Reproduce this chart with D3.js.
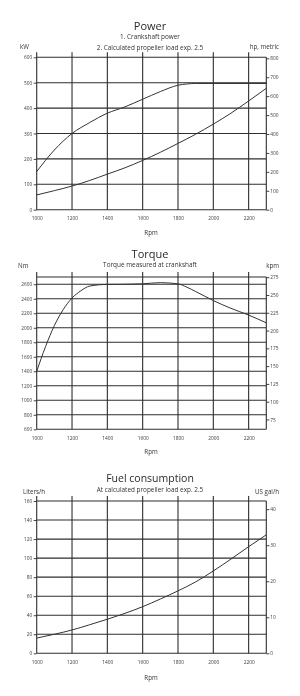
<!DOCTYPE html>
<html><head><meta charset="utf-8">
<script src="https://cdn.jsdelivr.net/npm/d3@7"></script>
<style>
html,body{margin:0;padding:0;background:#fff;}
svg{display:block;font-family:"Open Sans","DejaVu Sans",sans-serif;will-change:transform;-webkit-font-smoothing:antialiased;}
</style></head>
<body>
<svg id="c" width="300" height="696"></svg>
<script>
// ---- data ----
const rpmTicks = [1000, 1200, 1400, 1600, 1800, 2000, 2200];

const powerRpm = [1000, 1100, 1200, 1300, 1400, 1500, 1600, 1700, 1800, 1850, 1900, 2000, 2100, 2200, 2300];
const crankPowerKW = [150, 235, 300, 343, 380, 405, 435, 465, 490, 495, 497, 497, 497, 497, 497];
const propRpm = [1000, 1100, 1200, 1300, 1400, 1500, 1600, 1700, 1800, 1900, 2000, 2100, 2200, 2300];
const propPowerKW = [58, 75, 93, 115, 140, 165, 194, 226, 261, 297, 337, 380, 428, 478];
const kWTicks = [0, 100, 200, 300, 400, 500, 600];
const hpTicks = [0, 100, 200, 300, 400, 500, 600, 700, 800];

const torqueRpm = [1000, 1050, 1100, 1150, 1200, 1250, 1300, 1400, 1500, 1600, 1700, 1800, 1850, 1900, 2000, 2100, 2200, 2300];
const torqueNm = [1400, 1740, 2030, 2250, 2410, 2510, 2575, 2598, 2600, 2606, 2622, 2605, 2560, 2500, 2375, 2268, 2175, 2068];
const nmTicks = [600, 800, 1000, 1200, 1400, 1600, 1800, 2000, 2200, 2400, 2600];
const kpmTicks = [75, 100, 125, 150, 175, 200, 225, 250, 275];

const fuelRpm = [1000, 1100, 1200, 1300, 1400, 1500, 1600, 1700, 1800, 1900, 2000, 2100, 2200, 2300];
const fuelLh = [16, 20, 24.5, 30, 35.8, 42, 49, 57, 65.6, 75, 86.5, 99, 112, 124.5];
const lhTicks = [0, 20, 40, 60, 80, 100, 120, 140, 160];
const galTicks = [0, 10, 20, 30, 40];

// ---- drawing ----
const svg = d3.select("#c");
const x = d3.scaleLinear().domain([1000, 2300]).range([36.7, 266.3]);
const ink = "#2e2e2e";
const txt = "#333";
const fmt = d3.format("d");

function panel(o) {
  const g = svg.append("g");
  const y = o.y;
  const top = y.range()[1], bot = y.range()[0];
  const x0 = x.range()[0], x1 = x.range()[1];
  // titles
  g.append("text").attr("x", 150).attr("y", o.titleY).attr("text-anchor", "middle")
    .attr("dominant-baseline", "middle").attr("font-size", o.titleSize).attr("fill", "#2a2a2a").text(o.title);
  o.subs.forEach((s, i) => {
    g.append("text").attr("x", 150).attr("y", o.subY[i]).attr("text-anchor", "middle")
      .attr("dominant-baseline", "middle").attr("font-size", 6.4).attr("fill", txt).text(s);
  });
  g.append("text").attr("x", o.leftUnitX).attr("y", o.unitY).attr("dominant-baseline", "middle")
    .attr("font-size", 6.2).attr("fill", txt).text(o.leftUnit);
  g.append("text").attr("x", 279).attr("y", o.unitY).attr("text-anchor", "end").attr("dominant-baseline", "middle")
    .attr("font-size", 6.2).attr("fill", txt).text(o.rightUnit);

  // horizontal grid
  g.append("g").selectAll("line").data(o.leftTicks.concat(o.extraTop ? [y.domain()[1]] : [])).join("line")
    .attr("x1", x0).attr("x2", x1).attr("y1", d => y(d)).attr("y2", d => y(d))
    .attr("stroke", ink).attr("stroke-width", 1.1);
  // vertical grid
  g.append("g").selectAll("line").data(rpmTicks).join("line")
    .attr("x1", d => x(d)).attr("x2", d => x(d)).attr("y1", top - 5).attr("y2", bot)
    .attr("stroke", ink).attr("stroke-width", 1.1);
  g.append("line").attr("x1", x1).attr("x2", x1).attr("y1", top).attr("y2", bot)
    .attr("stroke", ink).attr("stroke-width", 1.1);

  // left axis
  const la = d3.axisLeft(y).tickValues(o.leftTicks).tickSize(3).tickPadding(1.5).tickFormat(fmt);
  const lg = g.append("g").attr("transform", `translate(${x0},0)`).call(la);
  // right axis
  const ra = d3.axisRight(o.yr).tickValues(o.rightTicks).tickSize(3).tickPadding(1).tickFormat(fmt);
  const rg = g.append("g").attr("transform", `translate(${x1},0)`).call(ra);
  // bottom axis
  const ba = d3.axisBottom(x).tickValues(rpmTicks).tickSize(0).tickPadding(7).tickFormat(fmt);
  const bg = g.append("g").attr("transform", `translate(0,${bot})`).call(ba);
  [lg, rg, bg].forEach(a => {
    a.select(".domain").remove();
    a.selectAll("line").attr("stroke", ink).attr("stroke-width", 0.9);
    a.selectAll("text").attr("font-size", 4.8).attr("fill", "#3a3a3a").attr("font-family", "Open Sans, DejaVu Sans, sans-serif");
  });
  g.append("text").attr("x", 151).attr("y", bot + o.rpmDy).attr("text-anchor", "middle")
    .attr("dominant-baseline", "middle").attr("font-size", 6.2).attr("fill", txt).text("Rpm");

  // curves
  const line = d3.line().x(d => x(d[0])).y(d => y(d[1])).curve(d3.curveMonotoneX);
  o.series.forEach(s => {
    g.append("path").datum(d3.zip(s[0], s[1])).attr("d", line)
      .attr("fill", "none").attr("stroke", "#333").attr("stroke-width", 1);
  });
}

// Power
const yP = d3.scaleLinear().domain([0, 600]).range([209.7, 57.3]);
panel({
  y: yP,
  yr: d3.scaleLinear().domain([0, 800]).range([209.7, 58.3]),
  title: "Power", titleY: 27, titleSize: 11,
  subs: ["1. Crankshaft power", "2. Calculated propeller load exp. 2.5"], subY: [37.5, 48],
  leftUnit: "kW", leftUnitX: 20, rightUnit: "hp, metric", unitY: 47.5,
  leftTicks: kWTicks, rightTicks: hpTicks, rpmDy: 23.6,
  series: [[powerRpm, crankPowerKW], [propRpm, propPowerKW]]
});

// Torque
const yT = d3.scaleLinear().domain([600, 2700]).range([429.3, 277.0]);
panel({
  y: yT, extraTop: true,
  yr: d3.scaleLinear().domain([600 / 9.80665, 2700 / 9.80665]).range([429.3, 277.0]),
  title: "Torque", titleY: 255.5, titleSize: 11,
  subs: ["Torque measured at crankshaft"], subY: [265.5],
  leftUnit: "Nm", leftUnitX: 18, rightUnit: "kpm", unitY: 266.5,
  leftTicks: nmTicks, rightTicks: kpmTicks, rpmDy: 23,
  series: [[torqueRpm, torqueNm]]
});

// Fuel
const yF = d3.scaleLinear().domain([0, 160]).range([653.3, 501.0]);
panel({
  y: yF,
  yr: d3.scaleLinear().domain([0, 160 / 3.785]).range([653.3, 501.0]),
  title: "Fuel consumption", titleY: 479.5, titleSize: 10.5,
  subs: ["At calculated propeller load exp. 2.5"], subY: [490],
  leftUnit: "Liters/h", leftUnitX: 23, rightUnit: "US gal/h", unitY: 492,
  leftTicks: lhTicks, rightTicks: galTicks, rpmDy: 24.7,
  series: [[fuelRpm, fuelLh]]
});
</script>
</body></html>
